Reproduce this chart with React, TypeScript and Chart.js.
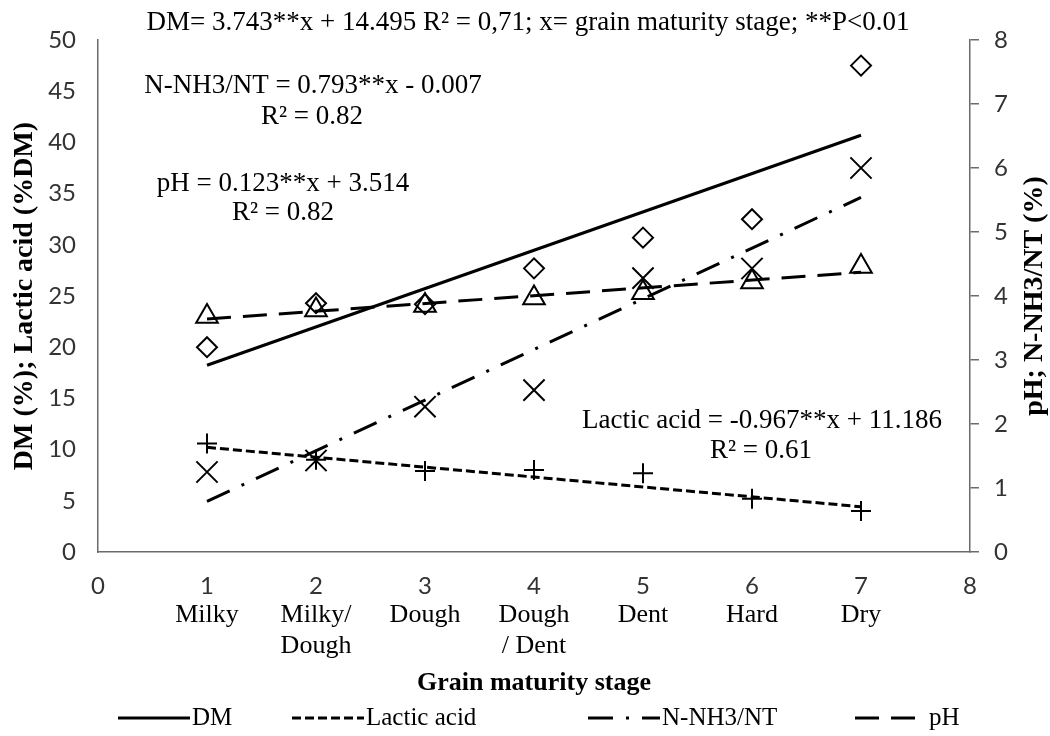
import { useEffect, useRef } from 'react';
import { Chart, registerables } from 'chart.js';

Chart.register(...registerables);

// ---- data ----
const stages = [1, 2, 3, 4, 5, 6, 7];
const stageNames: string[][] = [['Milky'], ['Milky/', 'Dough'], ['Dough'], ['Dough', '/ Dent'], ['Dent'], ['Hard'], ['Dry']];
const dmValues = [20.0, 24.3, 24.2, 27.7, 30.7, 32.5, 47.5];
const lacticValues = [10.6, 9.0, 7.9, 8.0, 7.7, 5.2, 4.0];
const nnh3Values = [1.25, 1.43, 2.27, 2.53, 4.28, 4.43, 6.0];
const phValues = [3.68, 3.78, 3.85, 3.97, 4.05, 4.22, 4.46];
const trendStages = [1, 7];
const dmTrend = [18.24, 40.7];
const lacticTrend = [10.22, 4.42];
const nnh3Trend = [0.79, 5.54];
const phTrend = [3.64, 4.37];
const legendLabels = ['DM', 'Lactic acid', 'N-NH3/NT', 'pH'];

const annotations = [
  { text: 'DM= 3.743**x + 14.495 R² = 0,71; x= grain maturity stage; **P<0.01', x: 528, y: 23 },
  { text: 'N-NH3/NT = 0.793**x - 0.007', x: 313, y: 86 },
  { text: 'R² = 0.82', x: 312, y: 117 },
  { text: 'pH = 0.123**x + 3.514', x: 283, y: 184 },
  { text: 'R² = 0.82', x: 283, y: 213 },
  { text: 'Lactic acid = -0.967**x + 11.186', x: 762, y: 421 },
  { text: 'R² = 0.61', x: 761, y: 451 },
];

const legendStarts = [118, 292, 588, 855];

const SERIF = '"Liberation Serif", "Times New Roman", serif';
const SANS = 'Lato, "Open Sans", sans-serif';

const pts = (xs: number[], ys: number[]) => xs.map((x, i) => ({ x, y: ys[i] }));

const extrasPlugin = {
  id: 'extras',
  afterDraw(chart: any) {
    const { ctx, chartArea, scales } = chart;
    const xs = scales.x;
    ctx.save();
    ctx.fillStyle = '#000';
    ctx.textAlign = 'center';
    ctx.textBaseline = 'middle';
    // category names under the tick numbers
    ctx.font = `26px ${SERIF}`;
    stages.forEach((s, i) => {
      const px = xs.getPixelForValue(s);
      stageNames[i].forEach((line, j) => ctx.fillText(line, px, 615 + j * 31));
    });
    // regression annotations
    ctx.font = `27px ${SERIF}`;
    annotations.forEach((a) => ctx.fillText(a.text, a.x, a.y));
    // right axis title (reads upwards)
    ctx.save();
    ctx.translate(1035, (chartArea.top + chartArea.bottom) / 2);
    ctx.rotate(-Math.PI / 2);
    ctx.font = `bold 28px ${SERIF}`;
    ctx.fillText('pH; N-NH3/NT (%)', 0, 0);
    ctx.restore();
    // legend (line styles of the trend lines)
    const trendSets = chart.data.datasets.slice(4);
    ctx.font = `25px ${SERIF}`;
    ctx.textAlign = 'left';
    trendSets.forEach((ds: any, i: number) => {
      const x0 = legendStarts[i];
      const y = 718;
      const len = 72;
      ctx.save();
      ctx.strokeStyle = '#000';
      ctx.lineWidth = 3;
      ctx.setLineDash(ds.borderDash || []);
      ctx.beginPath();
      ctx.moveTo(x0, y);
      ctx.lineTo(x0 + len, y);
      ctx.stroke();
      ctx.restore();
      ctx.fillText(ds.label, x0 + len + 2, y);
    });
    ctx.restore();
  },
};

export default function App() {
  const ref = useRef<HTMLCanvasElement | null>(null);
  useEffect(() => {
    document.body.style.margin = '0';
    document.body.style.background = '#fff';
    if (!ref.current) return;
    const axisColor = '#6b6b6b';
    const tickColor = '#333';
    const pointBase = {
      showLine: false,
      borderColor: '#000',
      backgroundColor: 'rgba(0,0,0,0)',
      pointBorderWidth: 2,
    };
    const lineBase = {
      showLine: true,
      pointRadius: 0,
      borderColor: '#000',
      borderWidth: 3,
      borderCapStyle: 'butt',
      fill: false,
    };
    const chart = new Chart(ref.current, {
      type: 'scatter',
      data: {
        datasets: [
          { ...pointBase, label: 'DM values', data: pts(stages, dmValues), pointStyle: 'rectRot', pointRadius: 10, yAxisID: 'y' },
          { ...pointBase, label: 'Lactic acid values', data: pts(stages, lacticValues), pointStyle: 'cross', pointRadius: 10, yAxisID: 'y' },
          { ...pointBase, label: 'N-NH3/NT values', data: pts(stages, nnh3Values), pointStyle: 'crossRot', pointRadius: 15, yAxisID: 'y1' },
          { ...pointBase, label: 'pH values', data: pts(stages, phValues), pointStyle: 'triangle', pointRadius: 12.5, yAxisID: 'y1' },
          { ...lineBase, label: legendLabels[0], data: pts(trendStages, dmTrend), borderDash: [], yAxisID: 'y' },
          { ...lineBase, label: legendLabels[1], data: pts(trendStages, lacticTrend), borderDash: [9, 4], yAxisID: 'y' },
          { ...lineBase, label: legendLabels[2], data: pts(trendStages, nnh3Trend), borderDash: [25, 13, 3, 13], yAxisID: 'y1' },
          { ...lineBase, label: legendLabels[3], data: pts(trendStages, phTrend), borderDash: [24, 12], yAxisID: 'y1' },
        ] as any,
      },
      options: {
        animation: false,
        responsive: true,
        maintainAspectRatio: false,
        events: [],
        layout: { padding: { top: 40, left: 0, right: 0, bottom: 0 } },
        plugins: { legend: { display: false }, tooltip: { enabled: false } },
        scales: {
          x: {
            type: 'linear',
            min: 0,
            max: 8,
            ticks: { stepSize: 1, font: { family: SANS, size: 24 }, color: tickColor, padding: 20, maxRotation: 0, autoSkip: false },
            grid: { display: false, drawTicks: false },
            border: { display: true, color: axisColor, width: 1.5 },
            title: {
              display: true,
              text: 'Grain maturity stage',
              color: '#000',
              font: { family: SERIF, size: 26, weight: 'bold' },
              padding: { top: 0, bottom: 37 },
            },
            afterFit: (s: any) => { s.height = 184; },
          },
          y: {
            type: 'linear',
            position: 'left',
            min: 0,
            max: 50,
            ticks: { stepSize: 5, font: { family: SANS, size: 24 }, color: tickColor, padding: 22 },
            grid: { display: false, drawTicks: false },
            border: { display: true, color: axisColor, width: 1.5 },
            title: {
              display: true,
              text: 'DM (%); Lactic acid (%DM)',
              color: '#000',
              font: { family: SERIF, size: 28, weight: 'bold' },
              padding: { top: 8, bottom: 0 },
            },
            afterFit: (s: any) => { s.width = 98; },
          },
          y1: {
            type: 'linear',
            position: 'right',
            min: 0,
            max: 8,
            ticks: { stepSize: 1, font: { family: SANS, size: 24 }, color: tickColor, padding: 15 },
            grid: { display: true, drawOnChartArea: false, drawTicks: true, tickLength: 9, color: axisColor, lineWidth: 1.5 },
            border: { display: true, color: axisColor, width: 1.5 },
            afterFit: (s: any) => { s.width = 80; },
          },
        },
      } as any,
      plugins: [extrasPlugin],
    });
    return () => chart.destroy();
  }, []);
  return (
    <div style={{ position: 'relative', width: 1050, height: 736, background: '#fff' }}>
      <canvas ref={ref} />
    </div>
  );
}
